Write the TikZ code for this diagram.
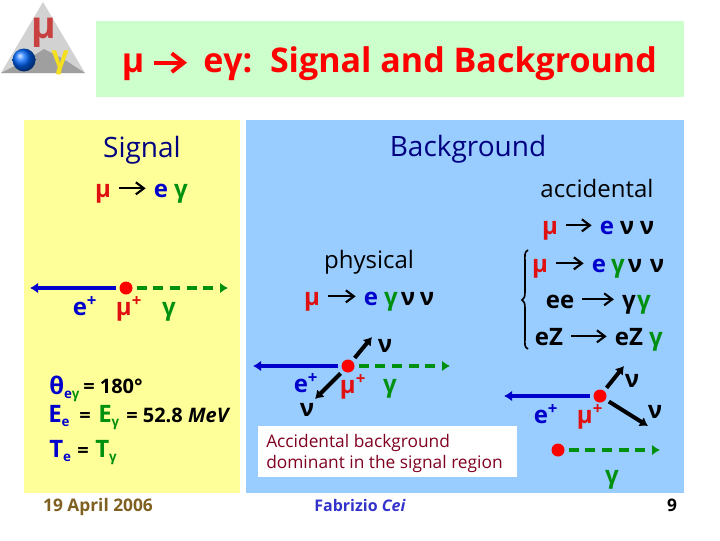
\documentclass[tikz,border=0pt]{standalone}
\usepackage{fontspec}
\setmainfont{Open Sans}
\usepackage{xcolor}
\usetikzlibrary{arrows.meta,positioning,calc,shadings}
\definecolor{titlegreen}{HTML}{CCFFCC}
\definecolor{signalyellow}{HTML}{FFFF99}
\definecolor{backblue}{HTML}{99CCFF}
\definecolor{muonred}{HTML}{E01010}
\definecolor{elecblue}{HTML}{0000CC}
\definecolor{photgreen}{HTML}{009010}
\definecolor{headnavy}{HTML}{000080}
\definecolor{notered}{HTML}{800020}
\definecolor{datebrown}{HTML}{806020}
\definecolor{namecol}{HTML}{3333CC}
\definecolor{logored}{HTML}{C84040}
\definecolor{logoyellow}{HTML}{F5E020}
\newcommand{\lowsub}[1]{\raisebox{-3.5pt}{\fontsize{10}{10}\selectfont #1}}
\tikzset{
  lab/.style={inner sep=0pt,anchor=base,font=\fontsize{18}{18}\selectfont\bfseries},
  rowlab/.style={text height=16pt,text depth=3pt},
  mulab/.style={lab,text=muonred},
  elab/.style={lab,text=elecblue},
  glab/.style={lab,text=photgreen},
  nulab/.style={lab,text=black},
  val/.style={inner sep=0pt,anchor=base west,text=black,font=\fontsize{15}{15}\selectfont\bfseries},
  head/.style={inner sep=0pt,anchor=base,text=headnavy,font=\fontsize{21}{21}\selectfont},
  sub/.style={inner sep=0pt,anchor=base,text=black,font=\fontsize{18}{18}\selectfont},
  titletext/.style={inner sep=0pt,text=red,text height=20pt,text depth=6pt,font=\fontsize{25.5}{25.5}\selectfont\bfseries},
  dec/.style={-{Straight Barb[length=6pt,width=9pt]},black,line width=1.6pt,shorten >=6pt,shorten <=6pt},
  vertex/.style={circle,fill=red,minimum size=9.75pt,inner sep=0pt,outer sep=3pt},
  etrack/.style={-{Latex[length=6pt,width=8pt]},elecblue,line width=3pt},
  gtrack/.style={-{Latex[length=6pt,width=8pt]},photgreen,line width=3pt,dash pattern=on 7.5pt off 5pt},
  nutrack/.style={-{Latex[length=6pt,width=8pt]},black,line width=3pt},
}
\begin{document}
\begin{tikzpicture}[x=.75pt,y=-.75pt]
\useasboundingbox (0,0) rectangle (720,540);
% panels
\fill[titlegreen] (96,21) rectangle (684,97);
\fill[signalyellow] (24,120) rectangle (240,493);
\fill[backblue] (246,120) rectangle (684,493);
\fill[white] (258,426) rectangle (517,477);
% logo
\fill[gray!35] (43,2) -- (85,73) -- (1,73) -- cycle;
\fill[gray!75] (1,73) -- (30,58) -- (44,49) -- (62,58) -- (85,73) -- cycle;
\shade[ball color=blue!60!cyan] (24,60) circle (11.5);
\node[inner sep=0pt,anchor=base,text=logored,font=\fontsize{28}{28}\selectfont\bfseries] (logomu) at (44,38) {μ};
\node[inner sep=0pt,anchor=base,text=logoyellow,font=\fontsize{23}{23}\selectfont\bfseries] (logogamma) at (60,67) {γ};
% title
\node[titletext,anchor=base] (titlemu) at (133,72) {μ};
\node[titletext,anchor=base west] (title) at (203,72) {eγ:\ \ Signal and Background};
\draw[-{Straight Barb[length=9pt,width=14pt]},red,line width=3pt,shorten >=12pt,shorten <=7pt] (titlemu) -- (title);
% signal
\node[head] (signalhead) at (142,157) {Signal};
\node[mulab,rowlab] (mua) at (103,197) {μ};
\node[elab,rowlab] (ea) at (161,197) {e};
\node[glab] (ga) at (181,197) {γ};
\draw[dec] (mua) -- (ea);
\node[vertex] (dota) at (126,288) {};
\coordinate (eenda) at (30,288);
\coordinate (genda) at (228,288);
\draw[etrack] (dota) -- (eenda);
\draw[gtrack] (dota) -- (genda);
\node[elab] (epa) at (85,315) {e\textsuperscript{+}};
\node[mulab] (mupa) at (129,315) {μ\textsuperscript{+}};
\node[glab] (gpa) at (169,315) {γ};
\node[elab,anchor=base west] (theta) at (49,394) {θ\lowsub{e\color{photgreen}γ}};
\node[val] (angle) at (83,393) {= 180°};
\node[elab,anchor=base west] (ee) at (48,422) {E\lowsub{e}};
\node[val] (eqa) at (79,422) {=};
\node[glab,anchor=base west] (eg) at (98,422) {E\lowsub{γ}};
\node[val] (energy) at (126,422) {= 52.8 \textit{MeV}};
\node[elab,anchor=base west] (te) at (49,457) {T\lowsub{e}};
\node[val] (eqb) at (77,457) {=};
\node[glab,anchor=base west] (tg) at (95,457) {T\lowsub{γ}};
% physical
\node[head] (backhead) at (468,156) {Background};
\node[sub] (physical) at (369,268) {physical};
\node[mulab,rowlab] (mub) at (312,305) {μ};
\node[elab,rowlab] (eb) at (371,305) {e};
\draw[dec] (mub) -- (eb);
\node[glab] (gb) at (391,305) {γ};
\foreach \x/\n in {408/nua,427/nub} \node[nulab] (\n) at (\x,305) {ν};
\node[vertex] (dotb) at (348,366) {};
\coordinate (eendb) at (253,366);
\coordinate (gendb) at (450,366);
\coordinate (nuendb) at (372,337);
\coordinate (nuendc) at (315,399);
\draw[etrack] (dotb) -- (eendb);
\draw[gtrack] (dotb) -- (gendb);
\draw[nutrack] (dotb) -- (nuendb);
\draw[nutrack] (dotb) -- (nuendc);
\node[nulab] (nuc) at (385,352) {ν};
\node[nulab] (nud) at (307,416) {ν};
\node[elab] (epb) at (306,392) {e\textsuperscript{+}};
\node[mulab] (mupb) at (353,393) {μ\textsuperscript{+}};
\node[glab] (gpb) at (390,392) {γ};
\node[inner sep=0pt,anchor=west,align=left,text=notered,font=\fontsize{13}{15.75}\selectfont] (note) at (266,453) {Accidental background\\dominant in the signal region};
% accidental
\node[sub] (accidental) at (597,197) {accidental};
\node[mulab,rowlab] (muc) at (550,234) {μ};
\node[elab,rowlab] (ec) at (607,234) {e};
\draw[dec] (muc) -- (ec);
\foreach \x/\n in {627/nue,647/nuf} \node[nulab] (\n) at (\x,234) {ν};
\draw[black,line width=1.2pt] (528,250) .. controls (524,252) and (525,256) .. (525,262) -- (525,292) .. controls (525,297) and (524,299) .. (522,300) .. controls (524,301) and (525,303) .. (525,308) -- (525,338) .. controls (525,344) and (524,347) .. (528,349);
\node[mulab,rowlab] (mud) at (540,272) {μ};
\node[elab,rowlab] (ed) at (599,272) {e};
\draw[dec] (mud) -- (ed);
\node[glab] (gd) at (618,272) {γ};
\foreach \x/\n in {635/nug,657/nuh} \node[nulab] (\n) at (\x,272) {ν};
\node[nulab,rowlab] (eea) at (560,308) {ee};
\node[nulab,rowlab] (gga) at (629,308) {γ};
\node[glab] (ggb) at (644,308) {γ};
\draw[dec] (eea) -- (gga);
\node[nulab,rowlab] (eza) at (549,345) {eZ};
\node[nulab,rowlab] (ezb) at (629,345) {eZ};
\node[glab] (gz) at (656,345) {γ};
\draw[dec] (eza) -- (ezb);
\node[vertex] (dotc) at (600,396) {};
\coordinate (eendc) at (504,396);
\coordinate (nuendf) at (624,366);
\coordinate (nuendg) at (648,426);
\draw[etrack] (dotc) -- (eendc);
\draw[nutrack] (dotc) -- (nuendf);
\draw[nutrack] (dotc) -- (nuendg);
\node[nulab] (nui) at (632,387) {ν};
\node[nulab] (nuj) at (655,418) {ν};
\node[elab] (epc) at (546,423) {e\textsuperscript{+}};
\node[mulab] (mupc) at (590,423) {μ\textsuperscript{+}};
\node[vertex] (dotd) at (558,450) {};
\coordinate (gendd) at (660,450);
\draw[gtrack] (dotd) -- (gendd);
\node[glab] (gpd) at (612,483) {γ};
% footer
\node[inner sep=0pt,anchor=base,text=datebrown,font=\fontsize{13}{13}\selectfont\bfseries] (datelab) at (98,511) {19 April 2006};
\node[inner sep=0pt,anchor=base,text=namecol,font=\fontsize{12}{12}\selectfont\bfseries] (namelab) at (360,511) {Fabrizio \textit{Cei}};
\node[inner sep=0pt,anchor=base,text=black,font=\fontsize{13}{13}\selectfont\bfseries] (pagelab) at (672,511) {9};
\end{tikzpicture}
\end{document}
